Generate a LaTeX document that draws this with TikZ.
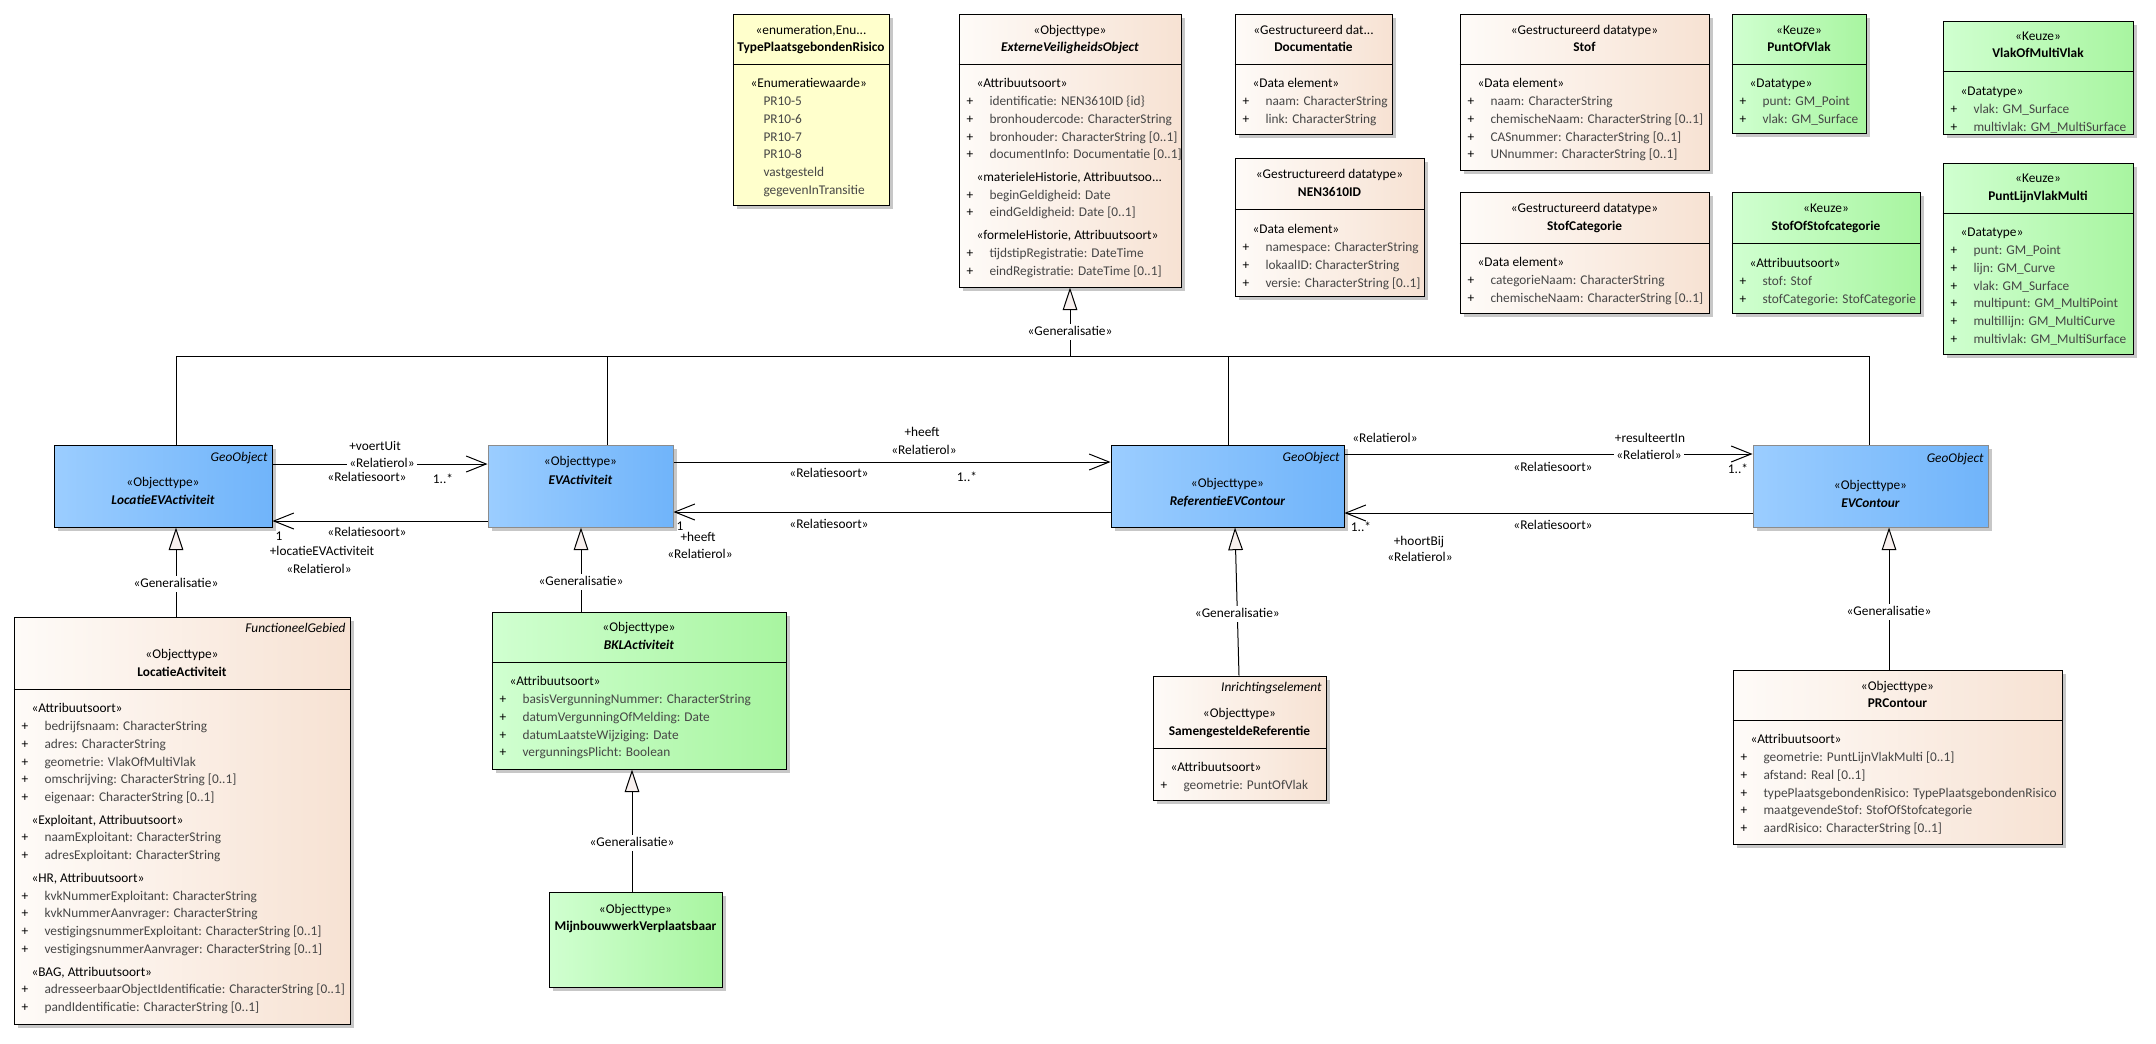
\documentclass[tikz,border=0pt]{standalone}
\usepackage{fontspec}
\setmainfont{Carlito}
\usetikzlibrary{arrows.meta,fit,shadows}

\definecolor{beigeL}{RGB}{254,251,248}
\definecolor{beigeR}{RGB}{247,226,211}
\definecolor{enumY}{RGB}{255,255,204}
\definecolor{greenL}{RGB}{208,255,208}
\definecolor{greenR}{RGB}{168,245,160}
\definecolor{blueL}{RGB}{155,205,255}
\definecolor{blueR}{RGB}{112,180,250}
\definecolor{attgray}{RGB}{70,70,70}
\definecolor{trifill}{RGB}{248,240,238}

\newcommand{\umlfont}{\fontsize{10}{13.3}\selectfont}
\newcommand{\att}[1]{\strut\makebox[17.25pt][l]{+}\textcolor{attgray}{#1}}
\newcommand{\stp}[1]{\strut\hspace*{7.5pt}#1}
\newcommand{\lit}[1]{\strut\hspace*{17.25pt}\textcolor{attgray}{#1}}

\tikzset{every picture/.style={line width=0.75pt}}
\tikzset{
  umlbox/.style={draw, inner sep=0pt, general shadow={fill=black!22, shadow xshift=3pt, shadow yshift=-3pt}},
  beigebox/.style={umlbox, left color=beigeL, right color=beigeR},
  enumbox/.style={umlbox, fill=enumY},
  greenbox/.style={umlbox, left color=greenL, right color=greenR},
  bluebox/.style={umlbox, left color=blueL, right color=blueR},
  hdr/.style={inner sep=0pt, text height=7pt, text depth=2pt, font=\umlfont},
  tag/.style={hdr, anchor=east, font=\umlfont\itshape},
  comp/.style={anchor=north west, align=left, inner sep=0pt, font=\umlfont},
  lbl/.style={hdr},
  genlbl/.style={hdr, fill=white, inner sep=1.5pt},
  assoc/.style={-{Straight Barb[length=15pt,width=12pt]}},
  gen/.style={-{Triangle[length=17pt,width=11pt,fill=trifill]}}
}

\begin{document}
\begin{tikzpicture}[x=0.75pt,y=0.75pt,yscale=-1,xscale=1]
\useasboundingbox (0,0) rectangle (2156,1043);

%Shape: Class [id:TypePlaatsgebondenRisico]
\node [enumbox, fit={(733,14) (889,205)}] (enumBox) {};
\draw (enumBox.west |- 0,64) -- (enumBox.east |- 0,64) ;
% Text Node
\draw (811,31) node [hdr] (enumSt) {«enumeration,Enu...};
\draw (811,48) node [hdr] (enumNm) {\textbf{TypePlaatsgebondenRisico}};
\draw (740,74.9) node [comp] (enumLit) {\stp{«Enumeratiewaarde»}\\ \lit{PR10-5}\\ \lit{PR10-6}\\ \lit{PR10-7}\\ \lit{PR10-8}\\ \lit{vastgesteld}\\ \lit{gegevenInTransitie}};

%Shape: Class [id:ExterneVeiligheidsObject]
\node [beigebox, fit={(959,14) (1181,287)}] (evo) {};
\draw (evo.west |- 0,64) -- (evo.east |- 0,64) ;
% Text Node
\draw (1070,31) node [hdr] (evoSt) {«Objecttype»};
\draw (1070,48) node [hdr] (evoNm) {\textbf{\textit{ExterneVeiligheidsObject}}};
\draw (966,74.9) node [comp] (evoAtt) {\stp{«Attribuutsoort»}\\ \att{identificatie: NEN3610ID \{id\}}\\ \att{bronhoudercode: CharacterString}\\ \att{bronhouder: CharacterString [0..1]}\\ \att{documentInfo: Documentatie [0..1]}\\[3.75pt] \stp{«materieleHistorie, Attribuutsoo...}\\ \att{beginGeldigheid: Date}\\ \att{eindGeldigheid: Date [0..1]}\\[3.75pt] \stp{«formeleHistorie, Attribuutsoort»}\\ \att{tijdstipRegistratie: DateTime}\\ \att{eindRegistratie: DateTime [0..1]}};

%Shape: Class [id:Documentatie]
\node [beigebox, fit={(1235,14) (1392,134)}] (doc) {};
\draw (doc.west |- 0,64) -- (doc.east |- 0,64) ;
% Text Node
\draw (1313.5,31) node [hdr] (docSt) {«Gestructureerd dat...};
\draw (1313.5,48) node [hdr] (docNm) {\textbf{Documentatie}};
\draw (1242,74.9) node [comp] (docAtt) {\stp{«Data element»}\\ \att{naam: CharacterString}\\ \att{link: CharacterString}};

%Shape: Class [id:NEN3610ID]
\node [beigebox, fit={(1235,158) (1424,296)}] (nen) {};
\draw (nen.west |- 0,209) -- (nen.east |- 0,209) ;
% Text Node
\draw (1329.5,175) node [hdr] (nenSt) {«Gestructureerd datatype»};
\draw (1329.5,193) node [hdr] (nenNm) {\textbf{NEN3610ID}};
\draw (1242,220.9) node [comp] (nenAtt) {\stp{«Data element»}\\ \att{namespace: CharacterString}\\ \att{lokaalID: CharacterString}\\ \att{versie: CharacterString [0..1]}};

%Shape: Class [id:Stof]
\node [beigebox, fit={(1460,14) (1709,170)}] (stof) {};
\draw (stof.west |- 0,64) -- (stof.east |- 0,64) ;
% Text Node
\draw (1584.5,31) node [hdr] (stofSt) {«Gestructureerd datatype»};
\draw (1584.5,48) node [hdr] (stofNm) {\textbf{Stof}};
\draw (1467,74.9) node [comp] (stofAtt) {\stp{«Data element»}\\ \att{naam: CharacterString}\\ \att{chemischeNaam: CharacterString [0..1]}\\ \att{CASnummer: CharacterString [0..1]}\\ \att{UNnummer: CharacterString [0..1]}};

%Shape: Class [id:StofCategorie]
\node [beigebox, fit={(1460,192) (1709,313)}] (stofCat) {};
\draw (stofCat.west |- 0,243) -- (stofCat.east |- 0,243) ;
% Text Node
\draw (1584.5,209) node [hdr] (stofCatSt) {«Gestructureerd datatype»};
\draw (1584.5,227) node [hdr] (stofCatNm) {\textbf{StofCategorie}};
\draw (1467,253.9) node [comp] (stofCatAtt) {\stp{«Data element»}\\ \att{categorieNaam: CharacterString}\\ \att{chemischeNaam: CharacterString [0..1]}};

%Shape: Class [id:PuntOfVlak]
\node [greenbox, fit={(1732,14) (1866,133)}] (pov) {};
\draw (pov.west |- 0,64) -- (pov.east |- 0,64) ;
% Text Node
\draw (1799,31) node [hdr] (povSt) {«Keuze»};
\draw (1799,48) node [hdr] (povNm) {\textbf{PuntOfVlak}};
\draw (1739,74.9) node [comp] (povAtt) {\stp{«Datatype»}\\ \att{punt: GM\_Point}\\ \att{vlak: GM\_Surface}};

%Shape: Class [id:VlakOfMultiVlak]
\node [greenbox, fit={(1943,21) (2133,134)}] (vomv) {};
\draw (vomv.west |- 0,71) -- (vomv.east |- 0,71) ;
% Text Node
\draw (2038,37) node [hdr] (vomvSt) {«Keuze»};
\draw (2038,54) node [hdr] (vomvNm) {\textbf{VlakOfMultiVlak}};
\draw (1950,82.9) node [comp] (vomvAtt) {\stp{«Datatype»}\\ \att{vlak: GM\_Surface}\\ \att{multivlak: GM\_MultiSurface}};

%Shape: Class [id:StofOfStofcategorie]
\node [greenbox, fit={(1732,192) (1920,313)}] (sosc) {};
\draw (sosc.west |- 0,243) -- (sosc.east |- 0,243) ;
% Text Node
\draw (1826,209) node [hdr] (soscSt) {«Keuze»};
\draw (1826,227) node [hdr] (soscNm) {\textbf{StofOfStofcategorie}};
\draw (1739,254.9) node [comp] (soscAtt) {\stp{«Attribuutsoort»}\\ \att{stof: Stof}\\ \att{stofCategorie: StofCategorie}};

%Shape: Class [id:PuntLijnVlakMulti]
\node [greenbox, fit={(1943,163) (2133,354)}] (plvm) {};
\draw (plvm.west |- 0,213) -- (plvm.east |- 0,213) ;
% Text Node
\draw (2038,179) node [hdr] (plvmSt) {«Keuze»};
\draw (2038,197) node [hdr] (plvmNm) {\textbf{PuntLijnVlakMulti}};
\draw (1950,223.9) node [comp] (plvmAtt) {\stp{«Datatype»}\\ \att{punt: GM\_Point}\\ \att{lijn: GM\_Curve}\\ \att{vlak: GM\_Surface}\\ \att{multipunt: GM\_MultiPoint}\\ \att{multillijn: GM\_MultiCurve}\\ \att{multivlak: GM\_MultiSurface}};

%Shape: Class [id:LocatieEVActiviteit]
\node [bluebox, fit={(54,445) (272,527)}] (locEV) {};
% Text Node
\draw (268,458) node [tag] (locEVTag) {GeoObject};
\draw (163,483) node [hdr] (locEVSt) {«Objecttype»};
\draw (163,501) node [hdr] (locEVNm) {\textbf{\textit{LocatieEVActiviteit}}};

%Shape: Class [id:EVActiviteit]
\node [bluebox, draw=black!45, fit={(488,445) (673,527)}] (evAct) {};
% Text Node
\draw (580.5,462) node [hdr] (evActSt) {«Objecttype»};
\draw (580.5,481) node [hdr] (evActNm) {\textbf{\textit{EVActiviteit}}};

%Shape: Class [id:ReferentieEVContour]
\node [bluebox, fit={(1111,445) (1344,527)}] (refEV) {};
% Text Node
\draw (1340,458) node [tag] (refEVTag) {GeoObject};
\draw (1227.5,484) node [hdr] (refEVSt) {«Objecttype»};
\draw (1227.5,502) node [hdr] (refEVNm) {\textbf{\textit{ReferentieEVContour}}};

%Shape: Class [id:EVContour]
\node [bluebox, draw=black!45, fit={(1753,445) (1988,527)}] (evCon) {};
% Text Node
\draw (1984,459) node [tag] (evConTag) {GeoObject};
\draw (1870.5,486) node [hdr] (evConSt) {«Objecttype»};
\draw (1870.5,504) node [hdr] (evConNm) {\textbf{\textit{EVContour}}};

%Shape: Class [id:LocatieActiviteit]
\node [beigebox, fit={(14,617) (350,1024)}] (locAct) {};
\draw (locAct.west |- 0,689) -- (locAct.east |- 0,689) ;
% Text Node
\draw (346,629) node [tag] (locActTag) {FunctioneelGebied};
\draw (182,655) node [hdr] (locActSt) {«Objecttype»};
\draw (182,673) node [hdr] (locActNm) {\textbf{LocatieActiviteit}};
\draw (21,699.9) node [comp] (locActAtt) {\stp{«Attribuutsoort»}\\ \att{bedrijfsnaam: CharacterString}\\ \att{adres: CharacterString}\\ \att{geometrie: VlakOfMultiVlak}\\ \att{omschrijving: CharacterString [0..1]}\\ \att{eigenaar: CharacterString [0..1]}\\[3.75pt] \stp{«Exploitant, Attribuutsoort»}\\ \att{naamExploitant: CharacterString}\\ \att{adresExploitant: CharacterString}\\[3.75pt] \stp{«HR, Attribuutsoort»}\\ \att{kvkNummerExploitant: CharacterString}\\ \att{kvkNummerAanvrager: CharacterString}\\ \att{vestigingsnummerExploitant: CharacterString [0..1]}\\ \att{vestigingsnummerAanvrager: CharacterString [0..1]}\\[3.75pt] \stp{«BAG, Attribuutsoort»}\\ \att{adresseerbaarObjectIdentificatie: CharacterString [0..1]}\\ \att{pandIdentificatie: CharacterString [0..1]}};

%Shape: Class [id:BKLActiviteit]
\node [greenbox, fit={(492,612) (786,769)}] (bkl) {};
\draw (bkl.west |- 0,662) -- (bkl.east |- 0,662) ;
% Text Node
\draw (639,628) node [hdr] (bklSt) {«Objecttype»};
\draw (639,646) node [hdr] (bklNm) {\textbf{\textit{BKLActiviteit}}};
\draw (499,672.9) node [comp] (bklAtt) {\stp{«Attribuutsoort»}\\ \att{basisVergunningNummer: CharacterString}\\ \att{datumVergunningOfMelding: Date}\\ \att{datumLaatsteWijziging: Date}\\ \att{vergunningsPlicht: Boolean}};

%Shape: Class [id:MijnbouwwerkVerplaatsbaar]
\node [greenbox, fit={(549,892) (722,987)}] (mijn) {};
% Text Node
\draw (635.5,910) node [hdr] (mijnSt) {«Objecttype»};
\draw (635.5,927) node [hdr] (mijnNm) {\textbf{MijnbouwwerkVerplaatsbaar}};

%Shape: Class [id:SamengesteldeReferentie]
\node [beigebox, fit={(1153,676) (1326,800)}] (samRef) {};
\draw (samRef.west |- 0,748) -- (samRef.east |- 0,748) ;
% Text Node
\draw (1322,688) node [tag] (samRefTag) {Inrichtingselement};
\draw (1239.5,714) node [hdr] (samRefSt) {«Objecttype»};
\draw (1239.5,732) node [hdr] (samRefNm) {\textbf{SamengesteldeReferentie}};
\draw (1160,758.9) node [comp] (samRefAtt) {\stp{«Attribuutsoort»}\\ \att{geometrie: PuntOfVlak}};

%Shape: Class [id:PRContour]
\node [beigebox, fit={(1733,670) (2062,844)}] (prc) {};
\draw (prc.west |- 0,720) -- (prc.east |- 0,720) ;
% Text Node
\draw (1897.5,687) node [hdr] (prcSt) {«Objecttype»};
\draw (1897.5,704) node [hdr] (prcNm) {\textbf{PRContour}};
\draw (1740,730.9) node [comp] (prcAtt) {\stp{«Attribuutsoort»}\\ \att{geometrie: PuntLijnVlakMulti [0..1]}\\ \att{afstand: Real [0..1]}\\ \att{typePlaatsgebondenRisico: TypePlaatsgebondenRisico}\\ \att{maatgevendeStof: StofOfStofcategorie}\\ \att{aardRisico: CharacterString [0..1]}};

%Generalisation tree to ExterneVeiligheidsObject
\coordinate (jLoc) at (176,356);
\coordinate (jAct) at (607,356);
\coordinate (jTop) at (1070,356);
\coordinate (jRef) at (1228,356);
\coordinate (jCon) at (1869,356);
\draw (locEV.north -| jLoc) -- (jLoc) -- (jCon) -- (evCon.north -| jCon) ;
\draw (evAct.north -| jAct) -- (jAct) ;
\draw (refEV.north -| jRef) -- (jRef) ;
\draw [gen] (jTop) -- node [genlbl, pos=0.35] (gTop) {«Generalisatie»} (evo.south -| jTop) ;

%Generalisations below
\coordinate (cLoc) at (176,0);
\coordinate (cBkl) at (581,0);
\coordinate (cMij) at (632,0);
\coordinate (cSam) at (1239,0);
\coordinate (cRef) at (1235,0);
\coordinate (cCon) at (1889,0);
\draw [gen] (locAct.north -| cLoc) -- node [genlbl, pos=0.367] (gLoc) {«Generalisatie»} (locEV.south -| cLoc) ;
\draw [gen] (bkl.north -| cBkl) -- node [genlbl, pos=0.353] (gBkl) {«Generalisatie»} (evAct.south -| cBkl) ;
\draw [gen] (mijn.north -| cMij) -- node [genlbl, pos=0.4] (gMij) {«Generalisatie»} (bkl.south -| cMij) ;
\draw [gen] (samRef.north -| cSam) -- node [genlbl, pos=0.416] (gSam) {«Generalisatie»} (refEV.south -| cRef) ;
\draw [gen] (prc.north -| cCon) -- node [genlbl, pos=0.406] (gPrc) {«Generalisatie»} (evCon.south -| cCon) ;

%Associations
\coordinate (yA) at (0,464);
\coordinate (yB) at (0,521);
\coordinate (yC) at (0,462);
\coordinate (yD) at (0,512);
\coordinate (yE) at (0,454);
\coordinate (yF) at (0,513);
\draw [assoc] (locEV.east |- yA) -- (evAct.west |- yA) ;
\draw [assoc] (evAct.west |- yB) -- (locEV.east |- yB) ;
\draw [assoc] (evAct.east |- yC) -- (refEV.west |- yC) ;
\draw [assoc] (refEV.west |- yD) -- (evAct.east |- yD) ;
\draw [assoc] (refEV.east |- yE) -- (evCon.west |- yE) ;
\draw [assoc] (evCon.west |- yF) -- (refEV.east |- yF) ;

% Text Node
\draw (375,447) node [lbl] (voertUit) {+voertUit};
\draw (382,464) node [genlbl] (voertUitRol) {«Relatierol»};
\draw (367,478) node [lbl] (voertUitSrt) {«Relatiesoort»};
\draw (443,480) node [lbl] (voertUitM) {1..*};
% Text Node
\draw (367,533) node [lbl] (locSrt) {«Relatiesoort»};
\draw (279,537) node [lbl] (locM) {1};
\draw (322,552) node [lbl] (locRl) {+locatieEVActiviteit};
\draw (319,570) node [lbl] (locRol) {«Relatierol»};
% Text Node
\draw (922,433) node [lbl] (heeftA) {+heeft};
\draw (924,451) node [lbl] (heeftARol) {«Relatierol»};
\draw (829,474) node [lbl] (heeftASrt) {«Relatiesoort»};
\draw (967,478) node [lbl] (heeftAM) {1..*};
% Text Node
\draw (829,525) node [lbl] (heeftBSrt) {«Relatiesoort»};
\draw (680,527) node [lbl] (heeftBM) {1};
\draw (698,538) node [lbl] (heeftB) {+heeft};
\draw (700,555) node [lbl] (heeftBRol) {«Relatierol»};
% Text Node
\draw (1385,439) node [lbl] (resRolL) {«Relatierol»};
\draw (1650,439) node [lbl] (resIn) {+resulteertIn};
\draw (1649,456) node [genlbl] (resRol) {«Relatierol»};
\draw (1553,468) node [lbl] (resSrt) {«Relatiesoort»};
\draw (1738,470) node [lbl] (resM) {1..*};
% Text Node
\draw (1553,526) node [lbl] (hoortSrt) {«Relatiesoort»};
\draw (1361,528) node [lbl] (hoortM) {1..*};
\draw (1419,542) node [lbl] (hoortBij) {+hoortBij};
\draw (1420,558) node [lbl] (hoortRol) {«Relatierol»};

\end{tikzpicture}
\end{document}
